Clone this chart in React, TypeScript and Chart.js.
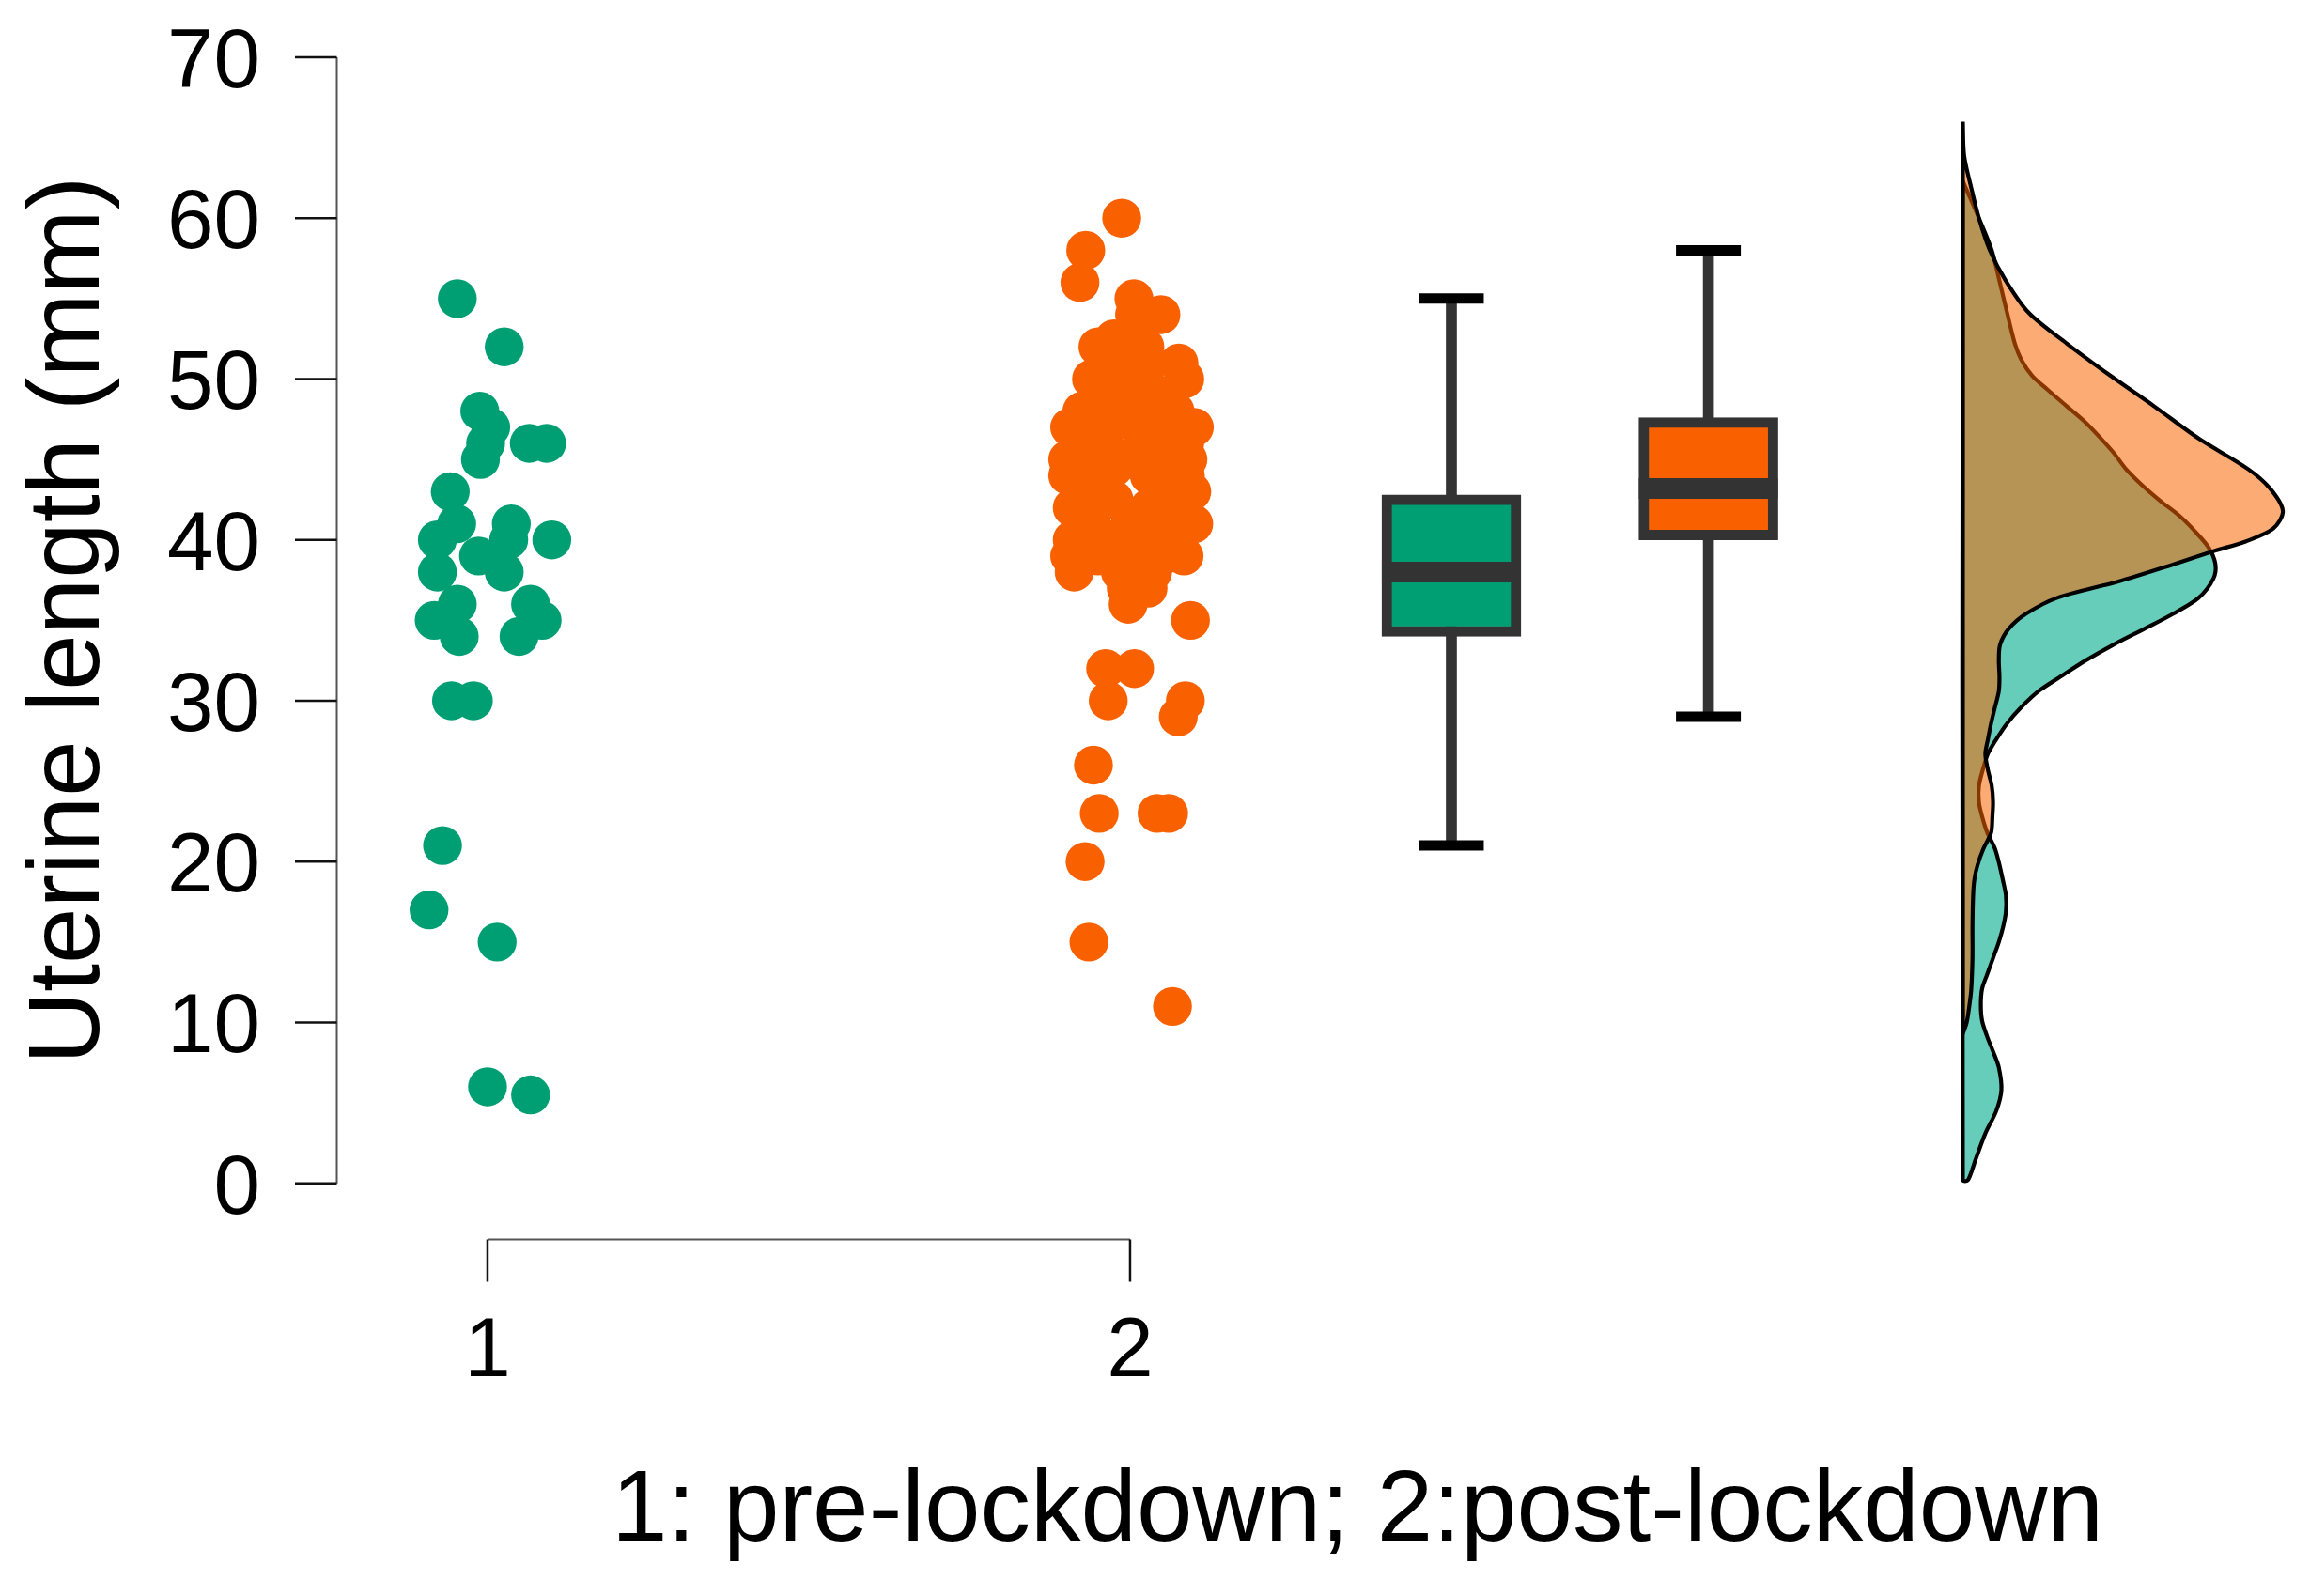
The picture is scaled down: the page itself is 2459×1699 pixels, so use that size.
import React, { useEffect, useRef } from 'react';
import { Chart, registerables } from 'chart.js';

Chart.register(...registerables);

// ---------- colours ----------
const GREEN = '#009E73';
const ORANGE = '#F96000';
const GREEN_DENSITY = 'rgba(0,172,142,0.6)';
const ORANGE_DENSITY = 'rgba(250,100,0,0.54)';

// ---------- axis text ----------
const yTitle = 'Uterine length (mm)';
const xTitle = '1: pre-lockdown; 2:post-lockdown';
const xTickValues = [1, 2];
const xTickLabels = ['1', '2'];
const yTickValues = [0, 10, 20, 30, 40, 50, 60, 70];

// ---------- raw (jittered) points ----------
const preX = [0.953, 1.026, 0.988, 1.005, 0.997, 0.989, 1.065, 1.092, 0.942, 0.952, 0.922, 0.986, 1.037, 1.033, 1.1, 0.922, 1.026, 0.953, 0.917, 0.956, 1.067, 1.085, 1.049, 0.944, 0.978, 0.93, 0.909, 1.015, 1.0, 1.067];
const preY = [55, 52, 48, 47, 46, 45, 46, 46, 43, 41, 40, 39, 41, 40, 40, 38, 38, 36, 35, 34, 36, 35, 34, 30, 30, 21, 17, 15, 6, 5.5];

const postX = [1.987, 1.931, 1.922, 2.006, 2.007, 2.048, 1.95, 2.023, 2.076, 2.085, 1.984, 1.94, 1.925, 1.964, 2.045, 2.085, 1.906, 1.903, 1.903, 2.086, 2.096, 2.099, 1.91, 1.91, 1.906, 1.913, 2.084, 1.994, 2.028, 1.997, 2.094, 1.962, 2.007, 1.966, 2.086, 2.075, 1.943, 1.952, 2.042, 2.06, 1.93, 1.936, 2.066,
  1.93, 1.96, 1.99, 2.02, 2.05, 1.95, 1.975, 2.03, 2.06, 2.07, 1.935, 1.94, 1.97, 2.0, 2.03, 2.06, 1.95, 1.99, 2.02, 2.05, 2.08, 1.96, 1.99, 2.03, 1.975, 2.01, 2.06, 1.93, 2.02, 2.09, 1.975, 2.035, 1.985, 2.05, 2.005, 2.04, 1.92, 2.07, 2.1, 2.065];
const postY = [60, 58, 56, 55, 54, 54, 52, 52, 51, 50, 51, 50, 48, 49, 47, 46, 47, 45, 44, 44, 43, 41, 42, 40, 39, 38, 39, 37, 37, 36, 35, 32, 32, 30, 30, 29, 26, 23, 23, 23, 20, 15, 11,
  45, 46, 47.5, 48, 49, 44, 42.5, 44, 45, 43.5, 43, 41, 40, 41, 42, 41, 39, 39.5, 40, 39, 42, 48, 50, 51, 52.5, 49, 47, 46.5, 46, 45, 44.5, 38, 38, 43, 45, 41.5, 41.5, 48, 47, 39.5];

// ---------- box plot summaries ----------
const boxPositions = [2.5, 2.9];
const boxLowerWhisker = [21, 29];
const boxQ1 = [34, 40];
const boxMedian = [38, 43.2];
const boxQ3 = [42.8, 47.6];
const boxUpperWhisker = [55, 58];
const boxColors = [GREEN, ORANGE];

// ---------- half-density curves (value, density width in x units) ----------
const densityBase = 3.296;
const preDensityY = [62.3, 60.0, 58.0, 56.1, 54.1, 52.2, 51.2, 50.2, 49.3, 48.3, 47.3, 46.3, 45.4, 44.4, 43.4, 42.4, 41.5, 40.5, 39.5, 38.5, 37.6, 36.4, 35.4, 34.5, 33.5, 32.5, 31.5, 30.6, 29.6, 28.6, 27.6, 26.7, 25.7, 24.7, 23.7, 22.8, 21.8, 20.8, 19.8, 18.9, 17.9, 16.9, 16.0, 15.0, 14.0, 13.0, 12.1, 11.1, 10.1, 9.1, 8.2, 7.2, 5.8, 4.5, 3.1, 1.5, 0.2];
const preDensityW = [0, 0.025, 0.045, 0.057, 0.069, 0.081, 0.091, 0.108, 0.133, 0.162, 0.191, 0.215, 0.235, 0.254, 0.279, 0.308, 0.337, 0.362, 0.383, 0.393, 0.39, 0.367, 0.327, 0.284, 0.235, 0.191, 0.152, 0.118, 0.091, 0.069, 0.052, 0.039, 0.031, 0.025, 0.025, 0.03, 0.038, 0.05, 0.057, 0.062, 0.067, 0.067, 0.063, 0.056, 0.047, 0.038, 0.03, 0.028, 0.03, 0.038, 0.047, 0.056, 0.06, 0.052, 0.035, 0.02, 0.008];
const postDensityY = [66.0, 63.9, 61.9, 60.0, 58.0, 56.1, 54.1, 52.2, 50.2, 48.3, 46.3, 44.4, 43.2, 41.8, 40.7, 39.9, 39.3, 38.3, 37.4, 36.4, 35.4, 34.5, 33.5, 32.5, 31.5, 30.6, 29.6, 28.6, 27.6, 26.7, 25.7, 24.7, 23.7, 22.8, 21.8, 20.8, 19.8, 18.9, 17.9, 16.0, 14.0, 12.0, 11.0, 10.0, 9.3];
const postDensityW = [0, 0.002, 0.013, 0.025, 0.042, 0.067, 0.103, 0.162, 0.23, 0.298, 0.367, 0.444, 0.478, 0.498, 0.483, 0.44, 0.39, 0.314, 0.241, 0.147, 0.098, 0.072, 0.058, 0.056, 0.057, 0.056, 0.05, 0.044, 0.039, 0.035, 0.039, 0.045, 0.047, 0.046, 0.044, 0.032, 0.023, 0.018, 0.016, 0.015, 0.015, 0.013, 0.01, 0.006, 0];

// ---------- layout ----------
const W = 2459;
const H = 1699;
const X_MIN = 0.7654;
const X_MAX = 3.8202;
const FONT = '"Liberation Sans", Arial, Helvetica, sans-serif';

function densityPolygon(ys: number[], ws: number[]) {
  const pts = ys.map((y, i) => ({ x: densityBase + ws[i], y }));
  pts.push({ x: densityBase, y: ys[ys.length - 1] });
  pts.push({ x: densityBase, y: ys[0] });
  return pts;
}

const axesPlugin = {
  id: 'rStyleAxes',
  beforeDatasetsDraw(chart: any) {
    const { ctx, chartArea } = chart;
    const x = chart.scales.x;
    const y = chart.scales.y;
    ctx.save();
    // y axis
    const ax = chartArea.left;
    const yTop = y.getPixelForValue(yTickValues[yTickValues.length - 1]);
    const yBot = y.getPixelForValue(yTickValues[0]);
    ctx.strokeStyle = '#555';
    ctx.lineWidth = 2;
    ctx.beginPath();
    ctx.moveTo(ax, yTop);
    ctx.lineTo(ax, yBot);
    ctx.stroke();
    ctx.strokeStyle = '#111';
    ctx.lineWidth = 2.5;
    ctx.fillStyle = '#000';
    ctx.font = `89px ${FONT}`;
    ctx.textAlign = 'right';
    ctx.textBaseline = 'alphabetic';
    yTickValues.forEach((v) => {
      const py = y.getPixelForValue(v);
      ctx.beginPath();
      ctx.moveTo(ax - 44.5, py);
      ctx.lineTo(ax, py);
      ctx.stroke();
      ctx.fillText(String(v), ax - 81.5, py + 32);
    });
    // x axis (offset below the plot, spanning the two groups)
    const axY = yBot + 59.8;
    const xl = x.getPixelForValue(xTickValues[0]);
    const xr = x.getPixelForValue(xTickValues[xTickValues.length - 1]);
    ctx.strokeStyle = '#555';
    ctx.lineWidth = 2;
    ctx.beginPath();
    ctx.moveTo(xl, axY);
    ctx.lineTo(xr, axY);
    ctx.stroke();
    ctx.strokeStyle = '#111';
    ctx.lineWidth = 2.5;
    ctx.textAlign = 'center';
    xTickValues.forEach((v, i) => {
      const px = x.getPixelForValue(v);
      ctx.beginPath();
      ctx.moveTo(px, axY);
      ctx.lineTo(px, axY + 45);
      ctx.stroke();
      ctx.fillText(xTickLabels[i], px, axY + 145.5);
    });
    // titles
    ctx.font = `107px ${FONT}`;
    ctx.textAlign = 'center';
    ctx.fillText(xTitle, 1445, 1640);
    ctx.save();
    ctx.translate(105, (yTop + yBot) / 2);
    ctx.rotate(-Math.PI / 2);
    ctx.fillText(yTitle, 0, 0);
    ctx.restore();
    ctx.restore();
  },
};

export default function App() {
  const ref = useRef<HTMLCanvasElement>(null);
  useEffect(() => {
    document.body.style.margin = '0';
    const canvas = ref.current;
    if (!canvas) return;
    const datasets: any[] = [
      {
        type: 'bar',
        data: boxPositions.map((x, i) => ({ x, y: [boxLowerWhisker[i], boxUpperWhisker[i]] })),
        backgroundColor: '#333333',
        borderWidth: 0,
        barThickness: 11,
        grouped: false,
        order: 10,
        clip: false,
      },
      {
        type: 'bar',
        data: boxPositions.map((x, i) => ({ x, y: [boxQ1[i], boxQ3[i]] })),
        backgroundColor: boxColors,
        borderColor: '#333333',
        borderWidth: 11,
        borderSkipped: false,
        barThickness: 148,
        grouped: false,
        order: 9,
        clip: false,
      },
      {
        type: 'scatter',
        data: boxPositions.map((x, i) => ({ x, y: boxMedian[i] })),
        pointStyle: 'line',
        pointRadius: 74,
        pointBorderWidth: 22,
        pointBorderColor: '#333333',
        order: 8,
        clip: false,
      },
      {
        type: 'scatter',
        data: [
          ...boxPositions.map((x, i) => ({ x, y: boxLowerWhisker[i] })),
          ...boxPositions.map((x, i) => ({ x, y: boxUpperWhisker[i] })),
        ],
        pointStyle: 'line',
        pointRadius: 34.5,
        pointBorderWidth: 11,
        pointBorderColor: '#000000',
        order: 8,
        clip: false,
      },
      {
        type: 'scatter',
        data: preX.map((x, i) => ({ x, y: preY[i] })),
        backgroundColor: GREEN,
        pointBackgroundColor: GREEN,
        pointRadius: 20.7,
        pointBorderWidth: 0,
        order: 7,
        clip: false,
      },
      {
        type: 'scatter',
        data: postX.map((x, i) => ({ x, y: postY[i] })),
        backgroundColor: ORANGE,
        pointBackgroundColor: ORANGE,
        pointRadius: 20.7,
        pointBorderWidth: 0,
        order: 7,
        clip: false,
      },
      {
        type: 'line',
        data: densityPolygon(preDensityY, preDensityW),
        borderColor: '#000',
        borderWidth: 4.2,
        backgroundColor: GREEN_DENSITY,
        fill: 'shape',
        pointRadius: 0,
        tension: 0.3,
        order: 6,
        clip: false,
      },
      {
        type: 'line',
        data: densityPolygon(postDensityY, postDensityW),
        borderColor: '#000',
        borderWidth: 4.2,
        backgroundColor: ORANGE_DENSITY,
        fill: 'shape',
        pointRadius: 0,
        tension: 0.3,
        order: 5,
        clip: false,
      },
    ];
    const chart = new Chart(canvas, {
      type: 'scatter',
      data: { datasets },
      options: {
        responsive: false,
        animation: false,
        events: [],
        layout: { autoPadding: false, padding: { left: 358.5, right: W - 2448, top: 61, bottom: H - 1259.7 } },
        scales: {
          x: { type: 'linear', min: X_MIN, max: X_MAX, display: false, offset: false },
          y: { type: 'linear', min: 0, max: 70, display: false, offset: false },
        },
        plugins: {
          legend: { display: false },
          tooltip: { enabled: false },
        },
      },
      plugins: [axesPlugin],
    } as any);
    return () => chart.destroy();
  }, []);
  return (
    <div style={{ width: W, height: H, background: '#fff', overflow: 'hidden' }}>
      <canvas ref={ref} width={W} height={H} style={{ display: 'block', width: W, height: H }} />
    </div>
  );
}
